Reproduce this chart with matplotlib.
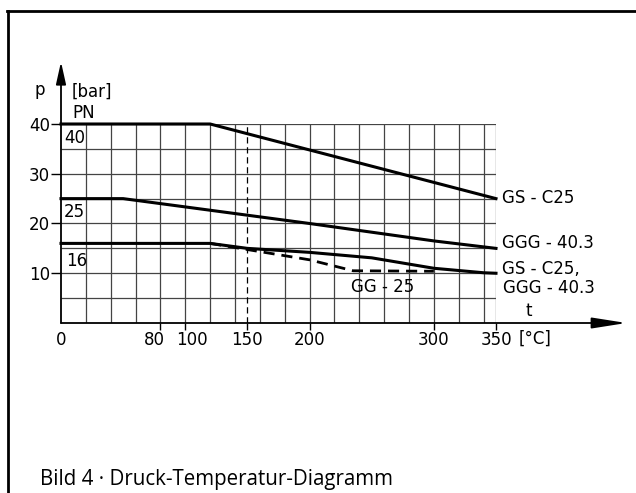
import numpy as np
import matplotlib
matplotlib.use("Agg")
import matplotlib.pyplot as plt
from matplotlib.lines import Line2D
from matplotlib.transforms import ScaledTranslation

# Druck-Temperatur-Werte (t in °C, p in bar)
t_pn40 = [0, 120, 350]
p_pn40 = [40, 40, 25]
t_pn25 = [0, 50, 200, 300, 350]
p_pn25 = [25, 25, 20, 16.5, 15]
t_pn16 = [0, 120, 150, 200, 250, 300, 340, 350]
p_pn16 = [16, 16, 15, 14.2, 13.1, 11, 10.1, 10]
t_gg25 = [120, 200, 235, 300]
p_gg25 = [16, 12.7, 10.5, 10.4]

x_ticks = [0, 80, 100, 150, 200, 300, 350]
y_ticks = [10, 20, 30, 40]
grid_t = list(range(20, 341, 20)) + [350]
grid_p = [5, 10, 15, 20, 25, 30, 35, 40]

FONT = "DejaVu Sans"
FS = 12

fig = plt.figure(figsize=(6.36, 4.93), dpi=100)
ax = fig.add_axes([61 / 636, 170 / 493, 435 / 636, 199 / 493])
ax.set_xlim(0, 350)
ax.set_ylim(0, 40)
for s in ax.spines.values():
    s.set_visible(False)

# Gitter
ax.vlines(grid_t, 0, 40, color="#444444", lw=0.9, zorder=1)
ax.hlines(grid_p, 0, 350, color="#444444", lw=0.9, zorder=1)
ax.vlines([150], 0, 40, color="k", lw=0.9, linestyles=(0, (5, 3)), zorder=2)

# Kurven
ax.plot(t_pn40, p_pn40, color="k", lw=2.2, clip_on=False, zorder=3)
ax.plot(t_pn25, p_pn25, color="k", lw=2.2, clip_on=False, zorder=3)
ax.plot(t_pn16, p_pn16, color="k", lw=2.2, clip_on=False, zorder=3)
ax.plot(t_gg25, p_gg25, color="k", lw=2.0, ls=(0, (4, 2.5)), clip_on=False, zorder=3)

# Achsen mit Pfeilen
ax.annotate("", xy=(455, 0), xytext=(0, 0), annotation_clip=False,
            arrowprops=dict(arrowstyle="-|>,head_length=1.4,head_width=0.22",
                            color="k", lw=1.3, mutation_scale=15, shrinkA=0, shrinkB=0))
ax.annotate("", xy=(0, 52.5), xytext=(0, 0), annotation_clip=False,
            arrowprops=dict(arrowstyle="-|>,head_length=0.9,head_width=0.2",
                            color="k", lw=1.3, mutation_scale=15, shrinkA=0, shrinkB=0))

ax.set_xticks(x_ticks)
ax.set_xticklabels([str(v) for v in x_ticks])
ax.set_yticks(y_ticks)
ax.set_yticklabels([str(v) for v in y_ticks])
ax.tick_params(axis="x", direction="out", length=5, width=1, pad=1, labelsize=FS)
ax.tick_params(axis="y", direction="out", length=7, width=1, pad=1, labelsize=FS)
for lab in ax.get_xticklabels() + ax.get_yticklabels():
    lab.set_fontfamily(FONT)
ax.xaxis.get_major_ticks()[0].tick1line.set_visible(False)

# 80 und 100 etwas auseinanderziehen
xl = ax.get_xticklabels()
xl[1].set_transform(xl[1].get_transform() + ScaledTranslation(-6 / 100, 0, fig.dpi_scale_trans))
xl[2].set_transform(xl[2].get_transform() + ScaledTranslation(7 / 100, 0, fig.dpi_scale_trans))

kw = dict(fontsize=FS, family=FONT, clip_on=False, va="center")
ax.text(-17, 46.8, "p", ha="center", **kw)
ax.text(8.5, 46.4, "[bar]", ha="left", **kw)
ax.text(9.5, 42.3, "PN", ha="left", **kw)
ax.text(2.5, 37.1, "40", ha="left", **kw)
ax.text(2.5, 22.4, "25", ha="left", **kw)
ax.text(4, 12.4, "16", ha="left", **kw)
ax.text(355, 25.2, "GS - C25", ha="left", **kw)
ax.text(355, 16.1, "GGG - 40.3", ha="left", **kw)
ax.text(355, 10.8, "GS - C25,", ha="left", **kw)
ax.text(356, 7.0, "GGG - 40.3", ha="left", **kw)
ax.text(259, 7.3, "GG - 25", ha="center", **kw)
ax.text(376.5, 2.4, "t", ha="center", **kw)
ax.text(368, -3.2, "[°C]", ha="left", **kw)

# Rahmen
fig.add_artist(Line2D([7 / 636, 1], [1 - 11 / 493, 1 - 11 / 493], color="k", lw=2))
fig.add_artist(Line2D([8 / 636, 8 / 636], [0, 1 - 11 / 493], color="k", lw=2))

fig.text(40 / 636, 14 / 493, "Bild 4 · Druck-Temperatur-Diagramm",
         fontsize=14.8, family="Open Sans", ha="left", va="center")

fig.savefig("out.png", dpi=100)
